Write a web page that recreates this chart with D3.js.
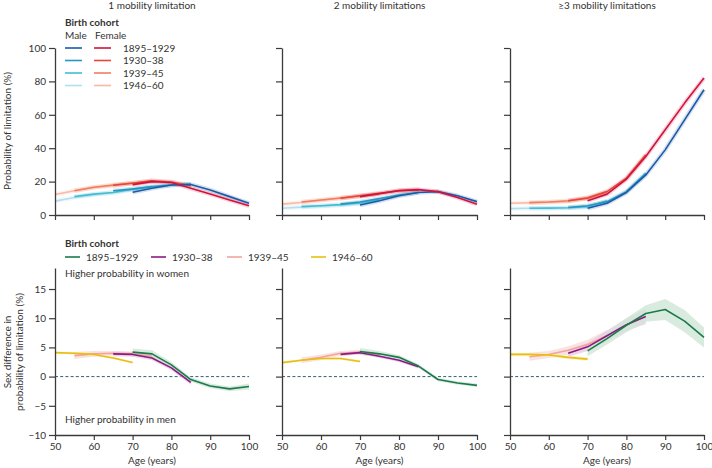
<!DOCTYPE html>
<html><head><meta charset="utf-8">
<script src="https://cdn.jsdelivr.net/npm/d3@7"></script>
<style>
body{margin:0;background:#fff;}
svg{display:block;font-family:Lato,"Noto Sans",sans-serif;}
text{fill:#333;}
</style></head><body>
<script>
// ---------- DATA ----------
const panelTitles = ["1 mobility limitation", "2 mobility limitations", "\u22653 mobility limitations"];
const cohorts = ["1895\u20131929", "1930\u201338", "1939\u201345", "1946\u201360"];
const ages1895 = [70, 75, 80, 85, 90, 95, 100];
const ages1930 = [65, 70, 75, 80, 85];
const ages1939 = [55, 60, 65, 70, 75];
const ages1946 = [50, 55, 60, 65, 70];
const xTicks = [50, 60, 70, 80, 90, 100];
const yTicksTop = [0, 20, 40, 60, 80, 100];
const yTicksBottom = [-10, -5, 0, 5, 10, 15];

// Probability (%) of 1 mobility limitation
const one_m_1895 = [13.6, 16, 18, 18.3, 15, 11, 7];
const one_m_1930 = [14.5, 15.5, 17, 18, 18.5];
const one_m_1939 = [11, 12.5, 13.5, 15.5, 17];
const one_m_1946 = [8.3, 10.5, 12, 13.5, 15];
const one_f_1895 = [18.2, 20, 19.5, 16, 12.6, 9, 5.5];
const one_f_1930 = [17.8, 19, 20.5, 19.8, 17.5];
const one_f_1939 = [14.5, 16.6, 18, 19.2, 20.3];
const one_f_1946 = [12.3, 14.5, 16.5, 17.5, 19];
// 2 mobility limitations
const two_m_1895 = [6, 8.5, 11.5, 13.5, 14, 11.5, 8];
const two_m_1930 = [6.5, 7.8, 9.8, 12, 13.5];
const two_m_1939 = [5, 5.5, 6.2, 7.2, 9];
const two_m_1946 = [4, 4.7, 5.3, 6, 6.8];
const two_f_1895 = [11, 12.8, 14.6, 15.2, 14, 10.5, 6.5];
const two_f_1930 = [10, 11.5, 13, 14.5, 15];
const two_f_1939 = [7.8, 9, 10.2, 11.5, 12.5];
const two_f_1946 = [6.5, 7.5, 8.8, 10, 11];
// >=3 mobility limitations
const three_m_1895 = [4, 7, 13.5, 24, 39, 57, 75];
const three_m_1930 = [4.5, 5.5, 8, 14, 25];
const three_m_1939 = [4, 4.1, 4.3, 5, 8.5];
const three_m_1946 = [3.8, 4, 4.2, 4.3, 5];
const three_f_1895 = [8.6, 12.5, 21.5, 35, 51, 67, 82];
const three_f_1930 = [8.5, 10, 14, 22, 36];
const three_f_1939 = [7.4, 7.8, 8.5, 10.5, 14];
const three_f_1946 = [7, 7.3, 7.6, 8, 10];

// Sex difference (%) and half-width of confidence band
const d1_1895 = [4.2, 3.9, 2.0, -0.5, -1.6, -2.1, -1.7];
const d1_1930 = [3.9, 3.8, 3.2, 1.5, -1.0];
const d1_1939 = [3.6, 3.9, 4.0, 3.9, 3.5];
const d1_1946 = [4.1, 4.0, 3.8, 3.2, 2.4];
const d2_1895 = [4.3, 3.9, 3.3, 1.8, -0.5, -1.1, -1.5];
const d2_1930 = [3.8, 4.1, 3.5, 2.8, 1.7];
const d2_1939 = [2.8, 3.3, 4.0, 4.2, 3.8];
const d2_1946 = [2.4, 2.8, 3.1, 3.1, 2.6];
const d3_1895 = [4.4, 6.5, 8.8, 10.8, 11.5, 9.5, 6.7];
const d3_1930 = [4.0, 5.1, 7.0, 8.9, 10.3];
const d3_1939 = [3.4, 3.8, 4.5, 5.5, 7.0];
const d3_1946 = [3.8, 3.8, 3.7, 3.3, 3.0];
const ci1_1895 = [0.6, 0.6, 0.5, 0.4, 0.4, 0.4, 0.5];
const ci1_1930 = [0.4, 0.4, 0.4, 0.4, 0.4];
const ci1_1939 = [0.6, 0.5, 0.4, 0.4, 0.4];
const ci1_1946 = [0.2, 0.2, 0.2, 0.2, 0.2];
const ci2_1895 = [0.6, 0.5, 0.4, 0.3, 0.3, 0.3, 0.3];
const ci2_1930 = [0.3, 0.3, 0.3, 0.3, 0.3];
const ci2_1939 = [0.5, 0.5, 0.4, 0.4, 0.4];
const ci2_1946 = [0.2, 0.2, 0.2, 0.2, 0.2];
const ci3_1895 = [0.9, 1.0, 1.2, 1.4, 1.8, 1.9, 1.7];
const ci3_1930 = [0.6, 0.7, 0.9, 1.1, 1.3];
const ci3_1939 = [0.7, 0.6, 0.7, 0.8, 1.0];
const ci3_1946 = [0.3, 0.3, 0.3, 0.3, 0.3];

// ---------- STYLE ----------
const maleColors = ["#1b5aa8", "#2796c0", "#44bdd3", "#b2dff0"];
const femaleColors = ["#d1123c", "#e6463d", "#f07d5e", "#f9b9a2"];
const diffColors = ["#1b7a4b", "#8c1a82", "#f3a29c", "#e9bf0c"];
const bandColors = ["#cfe6d7", "#e9cce2", "#f8dcdb", "#f6ecc0"];

const W = 712, H = 468;
const svg = d3.select("body").append("svg").attr("width", W).attr("height", H);
const axisColor = "#3a3a3a";

const panelX = [[55, 249], [282, 477], [510, 704]];
const yTop = d3.scaleLinear().domain([0, 100]).range([215, 48]);
const yBot = d3.scaleLinear().domain([-10, 18.6]).range([435, 268]);

const agesList = [ages1895, ages1930, ages1939, ages1946];
const topMale = [
  [one_m_1895, one_m_1930, one_m_1939, one_m_1946],
  [two_m_1895, two_m_1930, two_m_1939, two_m_1946],
  [three_m_1895, three_m_1930, three_m_1939, three_m_1946]];
const topFemale = [
  [one_f_1895, one_f_1930, one_f_1939, one_f_1946],
  [two_f_1895, two_f_1930, two_f_1939, two_f_1946],
  [three_f_1895, three_f_1930, three_f_1939, three_f_1946]];
const diffs = [
  [d1_1895, d1_1930, d1_1939, d1_1946],
  [d2_1895, d2_1930, d2_1939, d2_1946],
  [d3_1895, d3_1930, d3_1939, d3_1946]];
const cis = [
  [ci1_1895, ci1_1930, ci1_1939, ci1_1946],
  [ci2_1895, ci2_1930, ci2_1939, ci2_1946],
  [ci3_1895, ci3_1930, ci3_1939, ci3_1946]];

function styleAxis(g) {
  g.selectAll("path.domain").attr("stroke", axisColor).attr("stroke-width", 1.3);
  g.selectAll(".tick line").attr("stroke", axisColor).attr("stroke-width", 1.2);
  g.selectAll(".tick text").attr("fill", "#333").style("font-size", "10px")
    .style("font-family", "Lato, 'Noto Sans', sans-serif");
}

panelX.forEach((px, p) => {
  const x = d3.scaleLinear().domain([50, 100]).range(px);
  const cx = (px[0] + px[1]) / 2;

  // panel title
  svg.append("text").attr("x", cx).attr("y", 9).attr("text-anchor", "middle")
    .style("font-size", "10px").text(panelTitles[p]);

  // ---- top panel ----
  const gT = svg.append("g");
  const lineT = (ages) => d3.line().x((d, i) => x(ages[i])).y(d => yTop(d));
  for (let c = 3; c >= 0; c--) {
    [[topMale, maleColors], [topFemale, femaleColors]].forEach(([src, cols]) => {
      const vals = src[p][c];
      gT.append("path").attr("d", lineT(agesList[c])(vals)).attr("fill", "none")
        .attr("stroke", cols[c]).attr("stroke-opacity", 0.18).attr("stroke-width", 4.5)
        .attr("stroke-linejoin", "round");
    });
  }
  for (let c = 3; c >= 0; c--) {
    [[topMale, maleColors], [topFemale, femaleColors]].forEach(([src, cols]) => {
      const vals = src[p][c];
      gT.append("path").attr("d", lineT(agesList[c])(vals)).attr("fill", "none")
        .attr("stroke", cols[c]).attr("stroke-width", 1.6).attr("stroke-linejoin", "round");
    });
  }
  const yAxT = svg.append("g").attr("transform", `translate(${px[0]},0)`)
    .call(d3.axisLeft(yTop).tickValues(yTicksTop).tickSize(6).tickSizeOuter(0)
      .tickFormat(p === 0 ? d3.format("d") : () => ""));
  styleAxis(yAxT);
  const xAxT = svg.append("g").attr("transform", `translate(0,${yTop(0)})`)
    .call(d3.axisBottom(x).tickValues(xTicks).tickSize(5).tickSizeOuter(0).tickFormat(() => ""));
  styleAxis(xAxT);

  // ---- bottom panel ----
  const gB = svg.append("g");
  gB.append("line").attr("x1", px[0]).attr("x2", px[1]).attr("y1", yBot(0)).attr("y2", yBot(0))
    .attr("stroke", "#2f5e78").attr("stroke-width", 1).attr("stroke-dasharray", "3,2.2");
  const order = [2, 3, 1, 0];
  order.forEach(c => {
    const ages = agesList[c], vals = diffs[p][c], ci = cis[p][c];
    const area = d3.area().x((d, i) => x(ages[i]))
      .y0((d, i) => yBot(d - ci[i])).y1((d, i) => yBot(d + ci[i]));
    gB.append("path").attr("d", area(vals)).attr("fill", bandColors[c]).attr("fill-opacity", 0.8);
  });
  [2, 1, 0, 3].forEach(c => {
    const ages = agesList[c], vals = diffs[p][c];
    const line = d3.line().x((d, i) => x(ages[i])).y(d => yBot(d));
    gB.append("path").attr("d", line(vals)).attr("fill", "none").attr("stroke", diffColors[c])
      .attr("stroke-width", 1.6).attr("stroke-linejoin", "round");
  });
  const yAxB = svg.append("g").attr("transform", `translate(${px[0]},0)`)
    .call(d3.axisLeft(yBot).tickValues(yTicksBottom).tickSize(6).tickSizeOuter(0)
      .tickFormat(p === 0 ? (d => d < 0 ? "\u2212" + Math.abs(d) : d) : () => ""));
  styleAxis(yAxB);
  const xAxB = svg.append("g").attr("transform", `translate(0,${yBot(-10)})`)
    .call(d3.axisBottom(x).tickValues(xTicks).tickSize(5).tickSizeOuter(0).tickFormat(d3.format("d")));
  styleAxis(xAxB);
  xAxB.selectAll(".tick text").attr("y", 8);
  svg.append("text").attr("x", cx).attr("y", 464).attr("text-anchor", "middle")
    .style("font-size", "10px").text("Age (years)");
});

// Y axis titles
svg.append("text").attr("transform", "translate(11,131) rotate(-90)").attr("text-anchor", "middle")
  .style("font-size", "10px").text("Probability of limitation (%)");
svg.append("text").attr("transform", "translate(11,352) rotate(-90)").attr("text-anchor", "middle")
  .style("font-size", "10px").text("Sex difference in");
svg.append("text").attr("transform", "translate(23,352) rotate(-90)").attr("text-anchor", "middle")
  .style("font-size", "10px").text("probability of limitation (%)");

// Top legend
svg.append("text").attr("x", 65).attr("y", 26).style("font-size", "10px").style("font-weight", "bold")
  .text("Birth cohort");
svg.append("text").attr("x", 65).attr("y", 39).style("font-size", "10px").text("Male");
svg.append("text").attr("x", 95).attr("y", 39).style("font-size", "10px").text("Female");
cohorts.forEach((name, i) => {
  const yy = 48 + i * 12.5;
  svg.append("line").attr("x1", 65).attr("x2", 82).attr("y1", yy).attr("y2", yy)
    .attr("stroke", maleColors[i]).attr("stroke-width", 1.6);
  svg.append("line").attr("x1", 94).attr("x2", 111).attr("y1", yy).attr("y2", yy)
    .attr("stroke", femaleColors[i]).attr("stroke-width", 1.6);
  svg.append("text").attr("x", 123).attr("y", yy + 3.6).style("font-size", "10px").text(name);
});

// Bottom legend
svg.append("text").attr("x", 65).attr("y", 247).style("font-size", "10px").style("font-weight", "bold")
  .text("Birth cohort");
const legX = [65, 151, 227, 311];
cohorts.forEach((name, i) => {
  svg.append("line").attr("x1", legX[i]).attr("x2", legX[i] + 15).attr("y1", 257).attr("y2", 257)
    .attr("stroke", diffColors[i]).attr("stroke-width", 1.6);
  svg.append("text").attr("x", legX[i] + 21).attr("y", 260.6).style("font-size", "10px").text(name);
});
svg.append("text").attr("x", 65).attr("y", 277).style("font-size", "10px").text("Higher probability in women");
svg.append("text").attr("x", 65).attr("y", 423).style("font-size", "10px").text("Higher probability in men");
</script>
</body></html>
